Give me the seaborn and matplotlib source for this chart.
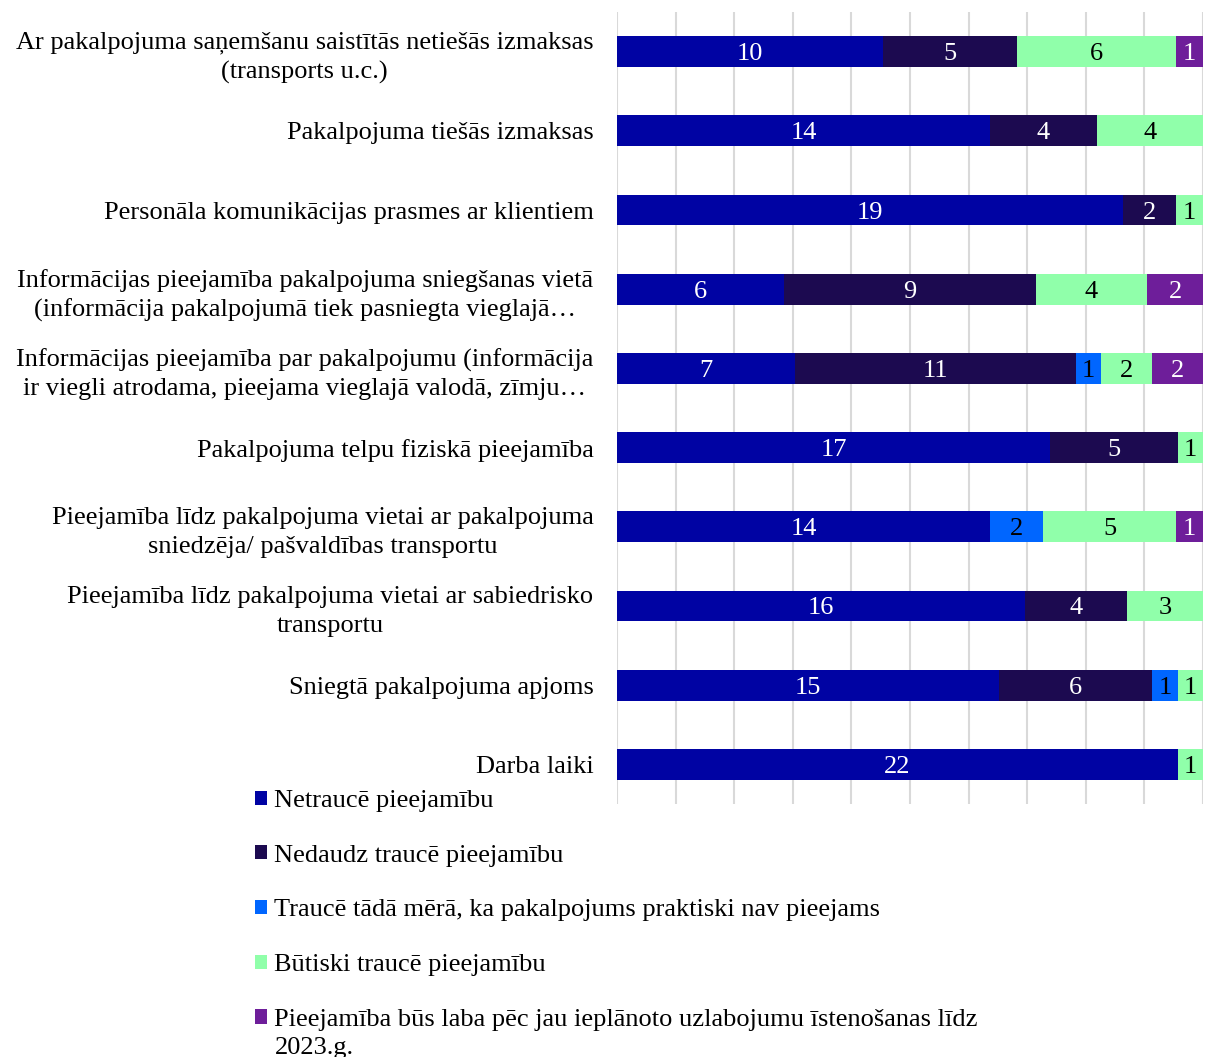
import numpy as np
import pandas as pd
import matplotlib
matplotlib.use("Agg")
import matplotlib.pyplot as plt
import seaborn as sns

# Categories (top to bottom)
categories = [
    "Ar pakalpojuma saņemšanu saistītās netiešās izmaksas\n(transports u.c.)",
    "Pakalpojuma tiešās izmaksas",
    "Personāla komunikācijas prasmes ar klientiem",
    "Informācijas pieejamība pakalpojuma sniegšanas vietā\n(informācija pakalpojumā tiek pasniegta vieglajā…",
    "Informācijas pieejamība par pakalpojumu (informācija\nir viegli atrodama, pieejama vieglajā valodā, zīmju…",
    "Pakalpojuma telpu fiziskā pieejamība",
    "Pieejamība līdz pakalpojuma vietai ar pakalpojuma\nsniedzēja/ pašvaldības transportu",
    "Pieejamība līdz pakalpojuma vietai ar sabiedrisko\ntransportu",
    "Sniegtā pakalpojuma apjoms",
    "Darba laiki",
]

series_names = [
    "Netraucē pieejamību",
    "Nedaudz traucē pieejamību",
    "Traucē tādā mērā, ka pakalpojums praktiski nav pieejams",
    "Būtiski traucē pieejamību",
    "Pieejamība būs laba pēc jau ieplānoto uzlabojumu īstenošanas līdz",
]
last_series_tail = "2023.g."

netrauce = [10, 14, 19, 6, 7, 17, 14, 16, 15, 22]
nedaudz = [5, 4, 2, 9, 11, 5, 0, 4, 6, 0]
praktiski = [0, 0, 0, 0, 1, 0, 2, 0, 1, 0]
butiski = [6, 4, 1, 4, 2, 1, 5, 3, 1, 1]
planots = [1, 0, 0, 2, 2, 0, 1, 0, 0, 0]

colors = ["#0003A3", "#1C0A50", "#0066FF", "#90FFAA", "#6E1E9A"]
text_colors = ["white", "white", "black", "black", "white"]

sns.set_theme(style="white")
plt.rcParams["font.family"] = ["Liberation Serif", "DejaVu Serif"]
plt.rcParams["text.color"] = "black"

FS = 19

counts = np.array([netrauce, nedaudz, praktiski, butiski, planots], dtype=float)
totals = counts.sum(axis=0)
shares = counts / totals * 100
cum = np.cumsum(shares, axis=0)

fig = plt.figure(figsize=(12.08, 10.57), dpi=100)
ax = fig.add_axes([0.5108, 0.2394, 0.4851, 0.7492])

# Stacked bars: draw cumulative extents from the outermost segment inward
for i in range(len(series_names) - 1, -1, -1):
    df = pd.DataFrame({"kategorija": categories, "vertiba": cum[i]})
    sns.barplot(data=df, x="vertiba", y="kategorija", orient="h",
                color=colors[i], saturation=1, width=0.39,
                edgecolor="none", linewidth=0, ax=ax, zorder=2)

# Segment value labels
for i in range(len(series_names)):
    starts = cum[i] - shares[i]
    for j in range(len(categories)):
        v = counts[i, j]
        if v > 0:
            ax.text(starts[j] + shares[i, j] / 2, j, f"{int(v)}",
                    ha="center", va="center_baseline", fontsize=FS,
                    color=text_colors[i], zorder=5)

ax.set_xlim(0, 100)
ax.set_ylim(9.5, -0.5)
ax.set_xticks(np.arange(0, 101, 10))
ax.set_xticklabels([])
ax.set_xlabel("")
ax.set_ylabel("")
ax.grid(axis="x", color="#D9D9D9", linewidth=1.5)
ax.grid(axis="y", visible=False)
ax.set_axisbelow(True)
for s in ax.spines.values():
    s.set_visible(False)
ax.tick_params(axis="y", length=0, pad=17, labelsize=FS)
ax.tick_params(axis="x", length=0)
for lbl in ax.get_yticklabels():
    lbl.set_multialignment("center")
    lbl.set_linespacing(1.37)
    lbl.set_color("black")

handles = [plt.Rectangle((0, 0), 1, 1, facecolor=c, edgecolor="none") for c in colors]
leg = fig.legend(handles, series_names, loc="upper left",
                 bbox_to_anchor=(0.2115, 0.2526), frameon=False, fontsize=FS,
                 handlelength=0.45, handleheight=0.45, handletextpad=0.27,
                 labelspacing=1.24, borderpad=0, borderaxespad=0)
for t in leg.get_texts():
    t.set_color("black")

# Second line of the last legend entry, placed under its first line
fig.canvas.draw()
renderer = fig.canvas.get_renderer()
bb = leg.get_texts()[-1].get_window_extent(renderer)
fig.text(bb.x0 / fig.bbox.width, (bb.y0 - 6) / fig.bbox.height, last_series_tail,
         ha="left", va="top", fontsize=FS, color="black")

fig.savefig("out.png", dpi=100)
